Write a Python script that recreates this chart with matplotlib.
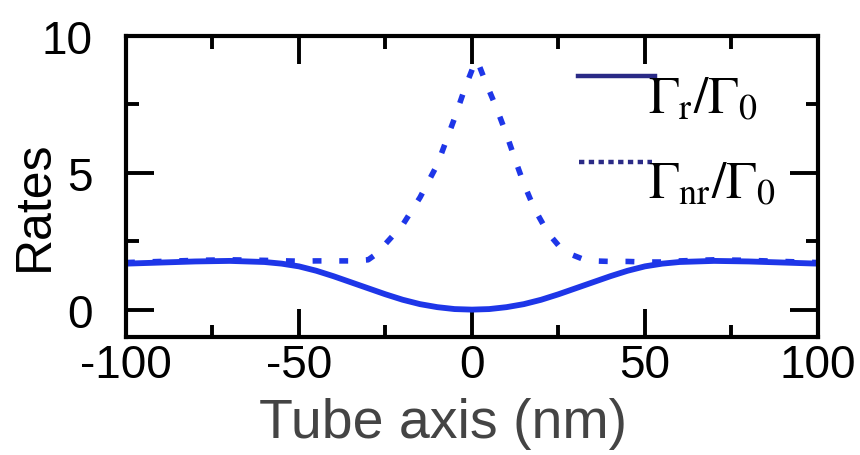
import matplotlib
matplotlib.use('Agg')
import matplotlib.pyplot as plt
from matplotlib.lines import Line2D

# Data
x_r = [-100, -90, -80, -70, -60, -55, -50, -45, -40, -35, -30, -25, -20, -15,
       -10, -5, 0, 5, 10, 15, 20, 25, 30, 35, 40, 45, 50, 55, 60, 70, 80, 90, 100]
gamma_r = [1.68, 1.72, 1.76, 1.78, 1.74, 1.68, 1.58, 1.42, 1.22, 1.00, 0.78, 0.56,
           0.36, 0.20, 0.09, 0.02, 0.00, 0.02, 0.09, 0.20, 0.36, 0.56, 0.78, 1.00,
           1.22, 1.42, 1.58, 1.68, 1.74, 1.78, 1.76, 1.72, 1.68]

x_nr = [-100, -90, -80, -70, -60, -50, -45, -40, -35, -30, -28, -25, -20, -15,
        -10, -5, -2, 0, 1, 2, 4, 7, 10, 13, 15, 18, 22, 25, 29, 32, 35, 40, 45,
        50, 55, 60, 70, 80, 90, 100]
gamma_nr = [1.72, 1.76, 1.80, 1.82, 1.80, 1.77, 1.78, 1.78, 1.78, 1.82, 2.0, 2.4,
            3.1, 4.1, 5.3, 7.0, 8.1, 8.75, 9.1, 8.95, 8.3, 7.4, 6.4, 5.3, 4.6,
            3.7, 2.8, 2.35, 2.0, 1.85, 1.78, 1.76, 1.76, 1.74, 1.74, 1.78, 1.82,
            1.80, 1.76, 1.72]

x_ticks = [-100, -50, 0, 50, 100]
y_ticks = [0, 5, 10]

LINE_BLUE = "#1e36e8"
LEGEND_NAVY = "#2a2a86"

plt.rcParams['font.family'] = ['Liberation Sans', 'DejaVu Sans']
plt.rcParams['mathtext.fontset'] = 'stix'

fig = plt.figure(figsize=(8.6, 4.56), dpi=100)
ax = fig.add_axes([0.1465, 0.2588, 0.8045, 0.6602])

ax.plot(x_nr, gamma_nr, color=LINE_BLUE, lw=4.0, linestyle=(0, (1.6, 3.2)),
        dash_capstyle='butt')
ax.plot(x_r, gamma_r, color=LINE_BLUE, lw=4.2, solid_capstyle='butt')

ax.set_xlim(-100, 100)
ax.set_ylim(-1, 10)
ax.set_xticks(x_ticks)
ax.set_xticks([-75, -25, 25, 75], minor=True)
ax.set_yticks(y_ticks)
ax.set_yticks([2.5, 7.5], minor=True)
ax.set_xticklabels([str(t) for t in x_ticks])
ax.set_yticklabels([str(t) for t in y_ticks])

for s in ax.spines.values():
    s.set_linewidth(3)
ax.tick_params(which='both', direction='in', top=True, right=True, width=2.8,
               labelsize=33)
ax.tick_params(which='major', length=20)
ax.tick_params(which='minor', length=9)
ax.tick_params(axis='x', which='major', pad=4)
ax.tick_params(axis='y', which='major', pad=24)

ax.set_ylabel('Rates', fontsize=36, va='center')
ax.yaxis.set_label_coords(-0.1315, 0.44)
ax.set_xlabel('Tube axis (nm)', fontsize=40, color='#444444', va='center')
ax.xaxis.set_label_coords(0.458, -0.285)

# hand-placed legend
ax.add_line(Line2D([0.653, 0.764], [0.867, 0.867], transform=ax.transAxes,
                   color=LEGEND_NAVY, lw=3.2))
ax.add_line(Line2D([0.655, 0.760], [0.581, 0.581], transform=ax.transAxes,
                   color=LEGEND_NAVY, lw=3.2, linestyle=(0, (1.2, 1.0))))
ax.text(0.755, 0.745, r'$\Gamma_{\mathrm{r}}/\Gamma_{0}$', transform=ax.transAxes,
        fontsize=37, va='baseline', ha='left')
ax.text(0.755, 0.462, r'$\Gamma_{\mathrm{nr}}/\Gamma_{0}$', transform=ax.transAxes,
        fontsize=37, va='baseline', ha='left')

fig.savefig('out.png', dpi=100)
